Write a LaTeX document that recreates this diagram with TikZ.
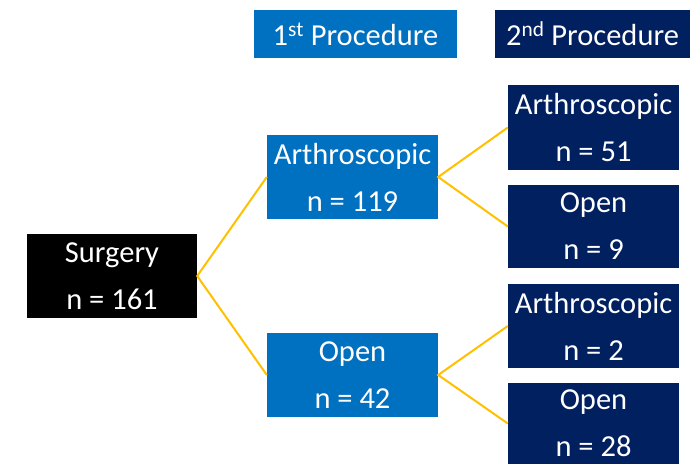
\documentclass[tikz,border=0pt]{standalone}
\usepackage{fontspec}
\setmainfont{Carlito}
\definecolor{midblue}{HTML}{0070C0}
\definecolor{navy}{HTML}{002060}
\definecolor{gold}{HTML}{FFC000}
\tikzset{
  box/.style={rectangle, inner sep=0pt, text=white, align=center,
    font=\fontsize{30.5}{47}\selectfont},
  lvlzero/.style={box, fill=black, minimum width=170pt, minimum height=84pt},
  lvlone/.style={box, fill=midblue, minimum width=171pt, minimum height=84pt},
  lvltwo/.style={box, fill=navy, minimum width=171pt, minimum height=84pt},
  link/.style={draw=gold, line width=2pt}
}
\begin{document}
\begin{tikzpicture}[x=1pt,y=-1pt]
\useasboundingbox (0,0) rectangle (692,464);
\node[box, fill=midblue, minimum width=203pt, minimum height=48pt] (h1) at (355.5,34) {1\textsuperscript{st} Procedure};
\node[box, fill=navy, minimum width=195pt, minimum height=48pt] (h2) at (592.5,34) {2\textsuperscript{nd} Procedure};
\node[lvlzero] (surg) at (112,276) {Surgery\\n = 161};
\node[lvlone] (a1) at (352.5,177) {Arthroscopic\\n = 119};
\node[lvlone] (o1) at (352.5,375) {Open\\n = 42};
\node[lvltwo, minimum height=85pt] (a2) at (593.5,127.5) {Arthroscopic\\n = 51};
\node[lvltwo, minimum height=83pt] (o2) at (593.5,226.5) {Open\\n = 9};
\node[lvltwo] (a3) at (593.5,326) {Arthroscopic\\n = 2};
\node[lvltwo, minimum height=81pt] (o3) at (593.5,423.5) {Open\\n = 28};
\draw[link] (a1.west) -- (surg.east) -- (o1.west);
\draw[link] (a2.west) -- (a1.east) -- (o2.west);
\draw[link] (a3.west) -- (o1.east) -- (o3.west);
\end{tikzpicture}
\end{document}
